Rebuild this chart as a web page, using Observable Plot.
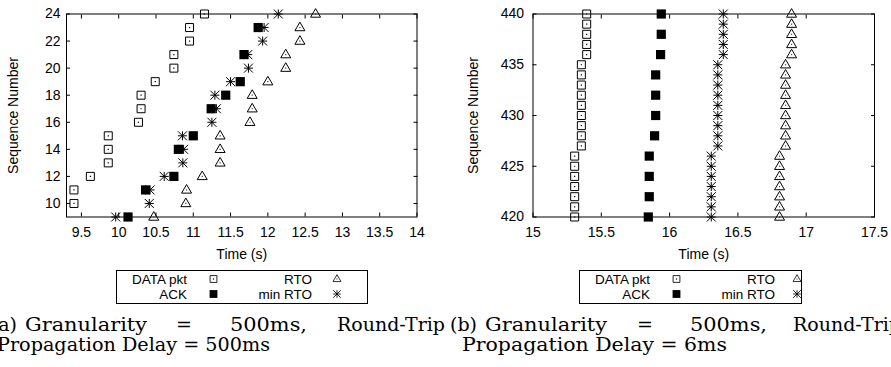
<!DOCTYPE html>
<html><head><meta charset="utf-8">
<script src="https://cdn.jsdelivr.net/npm/d3@7"></script>
<script src="https://cdn.jsdelivr.net/npm/@observablehq/plot@0.6"></script>
<style>
body{margin:0;background:#fff;}
#wrap{position:relative;width:891px;height:367px;overflow:hidden;background:#fff;}
#pa,#pb{position:absolute;top:0;}
#pa{left:0px}
#pb{left:440px}
#over{position:absolute;left:0;top:0;}
</style></head><body>
<div id="wrap"><div id="pa"></div><div id="pb"></div><svg id="over" width="891" height="367"></svg></div>
<script>
// ---------- Panel (a) data ----------
const aXTicks = [9.5, 10, 10.5, 11, 11.5, 12, 12.5, 13, 13.5, 14];
const aYTicks = [10, 12, 14, 16, 18, 20, 22, 24];
const aDataSeq  = [10, 11, 12, 13, 14, 15, 16, 17, 18, 19, 20, 21, 22, 23, 24];
const aDataTime = [9.40, 9.40, 9.62, 9.86, 9.86, 9.86, 10.265, 10.30, 10.30, 10.49, 10.74, 10.74, 10.95, 10.95, 11.15];
const aAckSeq  = [9, 11, 12, 14, 15, 17, 18, 19, 21, 23];
const aAckTime = [10.125, 10.36, 10.74, 10.80, 11.00, 11.24, 11.435, 11.63, 11.68, 11.87];
const aRtoSeq  = [9, 10, 11, 12, 13, 14, 15, 16, 17, 18, 19, 20, 21, 22, 23, 24];
const aRtoTime = [10.47, 10.90, 10.91, 11.12, 11.36, 11.36, 11.36, 11.76, 11.79, 11.79, 12.00, 12.24, 12.24, 12.43, 12.43, 12.64];
const aMinSeq  = [9, 10, 11, 12, 13, 14, 15, 16, 17, 18, 19, 20, 21, 22, 23, 24];
const aMinTime = [9.96, 10.41, 10.42, 10.61, 10.86, 10.87, 10.855, 11.25, 11.31, 11.29, 11.50, 11.74, 11.73, 11.93, 11.95, 12.14];

// ---------- Panel (b) data ----------
const bXTicks = [15, 15.5, 16, 16.5, 17, 17.5];
const bYTicks = [420, 425, 430, 435, 440];
const bSeq = [420, 421, 422, 423, 424, 425, 426, 427, 428, 429, 430, 431, 432, 433, 434, 435, 436, 437, 438, 439, 440];
const bDataTime = [15.305, 15.305, 15.305, 15.305, 15.305, 15.305, 15.305,
                   15.354, 15.354, 15.354, 15.354, 15.354, 15.354, 15.354, 15.354, 15.354,
                   15.393, 15.393, 15.393, 15.393, 15.393];
const bAckSeq  = [420, 422, 424, 426, 428, 430, 432, 434, 436, 438, 440];
const bAckTime = [15.844, 15.851, 15.851, 15.851, 15.89, 15.898, 15.898, 15.898, 15.934, 15.939, 15.939];
const bMinTime = [16.305, 16.305, 16.305, 16.305, 16.305, 16.305, 16.305,
                  16.353, 16.353, 16.353, 16.353, 16.353, 16.353, 16.353, 16.353, 16.353,
                  16.393, 16.393, 16.393, 16.393, 16.393];
const bRtoTime = [16.805, 16.805, 16.805, 16.805, 16.805, 16.805, 16.805,
                  16.849, 16.849, 16.849, 16.849, 16.849, 16.849, 16.849, 16.849, 16.849,
                  16.893, 16.893, 16.893, 16.893, 16.893];

// ---------- Legend / labels ----------
const seriesNames = ["DATA pkt", "RTO", "ACK", "min RTO"];
const xLabel = "Time (s)";
const yLabel = "Sequence Number";

// ---------- symbols (gnuplot-like) ----------
const symOpenSquare = {draw(c){c.moveTo(-4,-4);c.lineTo(4,-4);c.lineTo(4,4);c.lineTo(-4,4);c.closePath();}};
const symFilledSquare = {draw(c){c.moveTo(-4.6,-4.6);c.lineTo(4.6,-4.6);c.lineTo(4.6,4.6);c.lineTo(-4.6,4.6);c.closePath();}};
const symTriangle = {draw(c){c.moveTo(0,-5.4);c.lineTo(5,3.2);c.lineTo(-5,3.2);c.closePath();}};
const symStar = {draw(c){const s=4.5;c.moveTo(-s,0);c.lineTo(s,0);c.moveTo(0,-s);c.lineTo(0,s);c.moveTo(-s,-s);c.lineTo(s,s);c.moveTo(-s,s);c.lineTo(s,-s);}};
const symDot = {draw(c){c.moveTo(-0.6,-0.6);c.lineTo(0.6,-0.6);c.lineTo(0.6,0.6);c.lineTo(-0.6,0.6);c.closePath();}};

const zip = (T, S) => T.map((t, i) => ({t, s: S[i]}));
const fmt = d3.format("~g");

function seriesMarks(data, ack, rto, mn) {
  return [
    Plot.dot(data, {x: "t", y: "s", symbol: symOpenSquare, stroke: "black", fill: "none", strokeWidth: 1}),
    Plot.dot(data, {x: "t", y: "s", symbol: symDot, fill: "black", stroke: "none"}),
    Plot.dot(rto, {x: "t", y: "s", symbol: symTriangle, stroke: "black", fill: "none", strokeWidth: 1}),
    Plot.dot(rto, {x: "t", y: "s", symbol: symDot, fill: "#444", stroke: "none"}),
    Plot.dot(mn, {x: "t", y: "s", symbol: symStar, stroke: "black", fill: "none", strokeWidth: 1}),
    Plot.dot(mn, {x: "t", y: "s", symbol: symDot, fill: "black", stroke: "none"}),
    Plot.dot(ack, {x: "t", y: "s", symbol: symFilledSquare, fill: "black", stroke: "none"})
  ];
}

function panel({width, marginLeft, marginRight, xDomain, yDomain, xTicks, yTicks, yPad, yLabelOffset, marks}) {
  return Plot.plot({
    width, height: 265,
    marginLeft, marginRight, marginTop: 13.5, marginBottom: 48.5,
    style: {fontFamily: "'Liberation Sans', Arial, Helvetica, sans-serif", fontSize: "14px", background: "white", color: "black", overflow: "visible"},
    x: {domain: xDomain},
    y: {domain: yDomain},
    marks: [
      ...marks,
      Plot.frame({stroke: "black", strokeWidth: 1}),
      Plot.axisX(xTicks, {anchor: "bottom", tickSize: -4, tickPadding: 14, tickFormat: fmt, label: xLabel, labelAnchor: "center", labelArrow: "none", labelOffset: 42}),
      Plot.axisX(xTicks, {anchor: "top", tickSize: -4, tickFormat: () => "", label: null}),
      Plot.axisY(yTicks, {anchor: "left", tickSize: -4, tickPadding: yPad, tickFormat: fmt, label: yLabel, labelAnchor: "center", labelArrow: "none", labelOffset: yLabelOffset}),
      Plot.axisY(yTicks, {anchor: "right", tickSize: -4, tickFormat: () => "", label: null})
    ]
  });
}

const plotA = panel({
  width: 440, marginLeft: 66, marginRight: 23.5,
  xDomain: [9.3, 14], yDomain: [9, 24], xTicks: aXTicks, yTicks: aYTicks, yPad: 10, yLabelOffset: 58,
  marks: seriesMarks(zip(aDataTime, aDataSeq), zip(aAckTime, aAckSeq), zip(aRtoTime, aRtoSeq), zip(aMinTime, aMinSeq))
});
document.getElementById("pa").appendChild(plotA);

const plotB = panel({
  width: 451, marginLeft: 92.5, marginRight: 17,
  xDomain: [15, 17.5], yDomain: [420, 440], xTicks: bXTicks, yTicks: bYTicks, yPad: 13, yLabelOffset: 65,
  marks: seriesMarks(zip(bDataTime, bSeq), zip(bAckTime, bAckSeq), zip(bRtoTime, bSeq), zip(bMinTime, bSeq))
});
document.getElementById("pb").appendChild(plotB);

// ---------- legends and captions (overlay) ----------
const over = d3.select("#over");
function symPath(sym) { const p = d3.path(); sym.draw(p, 0); return p.toString(); }

function legend(x0, w, sym2x) {
  const g = over.append("g").attr("font-family", "'Liberation Sans', Arial, sans-serif").attr("font-size", 13.5);
  g.append("rect").attr("x", x0 + 0.5).attr("y", 270.5).attr("width", w).attr("height", 33)
    .attr("fill", "none").attr("stroke", "black");
  const rows = [284, 299];
  const t1 = x0 + 71, s1 = x0 + 97.5, t2 = x0 + 196, s2 = x0 + sym2x;
  g.append("text").attr("x", t1).attr("y", rows[0]).attr("text-anchor", "end").text(seriesNames[0]);
  g.append("text").attr("x", t2).attr("y", rows[0]).attr("text-anchor", "end").text(seriesNames[1]);
  g.append("text").attr("x", t1).attr("y", rows[1]).attr("text-anchor", "end").text(seriesNames[2]);
  g.append("text").attr("x", t2).attr("y", rows[1]).attr("text-anchor", "end").text(seriesNames[3]);
  const cy0 = rows[0] - 5, cy1 = rows[1] - 5;
  g.append("path").attr("transform", `translate(${s1},${cy0}) scale(0.85)`).attr("d", symPath(symOpenSquare)).attr("fill", "none").attr("stroke", "black");
  g.append("path").attr("transform", `translate(${s1},${cy0})`).attr("d", symPath(symDot)).attr("fill", "black");
  g.append("path").attr("transform", `translate(${s2},${cy0}) scale(0.8)`).attr("d", symPath(symTriangle)).attr("fill", "none").attr("stroke", "black");
  g.append("path").attr("transform", `translate(${s2},${cy0})`).attr("d", symPath(symDot)).attr("fill", "#444");
  g.append("path").attr("transform", `translate(${s1},${cy1}) scale(0.85)`).attr("d", symPath(symFilledSquare)).attr("fill", "black");
  g.append("path").attr("transform", `translate(${s2},${cy1}) scale(0.85)`).attr("d", symPath(symStar)).attr("fill", "none").attr("stroke", "black");
}
legend(116, 251, 221);
legend(579, 222, 218);

function caption(words, line2) {
  const g = over.append("g").attr("font-family", "'DejaVu Serif', serif").attr("font-size", 19).attr("fill", "black");
  words.forEach(w => {
    const t = g.append("text").attr("x", w.x).attr("y", 331).text(w.text);
    if (w.anchor) t.attr("text-anchor", w.anchor);
    if (w.len) t.attr("textLength", w.len).attr("lengthAdjust", "spacingAndGlyphs");
  });
  g.append("text").attr("x", line2.x).attr("y", 351).attr("textLength", line2.len)
    .attr("lengthAdjust", "spacingAndGlyphs").text(line2.text);
}
caption([
  {text: "(a)", x: 17, anchor: "end"},
  {text: "Granularity", x: 25, len: 122},
  {text: "=", x: 176},
  {text: "500ms,", x: 230, len: 77},
  {text: "Round-Trip", x: 337, len: 108}
], {text: "Propagation Delay = 500ms", x: -3, len: 273});
caption([
  {text: "(b)", x: 477, anchor: "end"},
  {text: "Granularity", x: 485, len: 122},
  {text: "=", x: 637},
  {text: "500ms,", x: 690, len: 77},
  {text: "Round-Trip", x: 793, len: 108}
], {text: "Propagation Delay = 6ms", x: 462, len: 265});
</script>
</body></html>
